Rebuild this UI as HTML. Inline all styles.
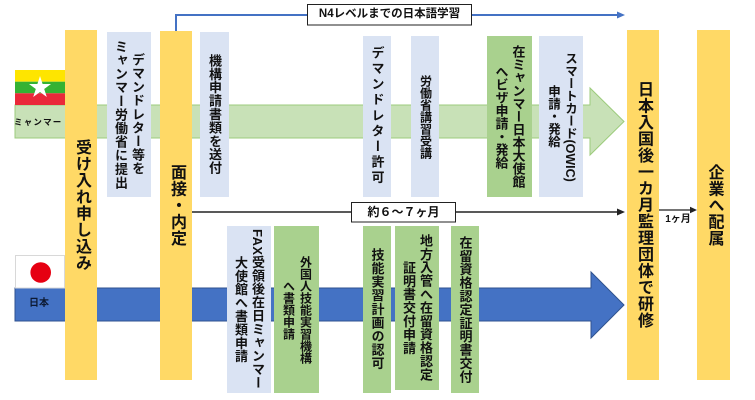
<!DOCTYPE html>
<html><head><meta charset="utf-8">
<style>
html,body{margin:0;padding:0;background:#fff;}
body{width:755px;height:400px;position:relative;overflow:hidden;font-family:"Liberation Sans","Noto Sans CJK JP",sans-serif;}
svg.bg{position:absolute;left:0;top:0;}
.b{position:absolute;writing-mode:vertical-rl;text-orientation:mixed;display:flex;align-items:center;justify-content:center;font-weight:bold;color:#111;font-family:"Liberation Sans","Noto Sans CJK JP",sans-serif;text-align:center;box-sizing:border-box;}
.b span{display:block;}
.y{background:#ffd966;font-size:16px;letter-spacing:0.5px;line-height:20px;}
.l{background:#dae3f3;font-size:13px;line-height:17px;letter-spacing:0.4px;}
.g{background:#a9d18e;font-size:13px;line-height:17px;letter-spacing:0.4px;}
.t{position:absolute;font-weight:bold;color:#111;white-space:nowrap;font-family:"Liberation Sans","Noto Sans CJK JP",sans-serif;}
</style></head><body>
<svg class="bg" width="755" height="400" viewBox="0 0 755 400" xmlns="http://www.w3.org/2000/svg">
  <!-- green band arrow -->
  <polygon points="15,105 590,105 590,88 624,121.5 590,155 590,138 15,138" fill="#c8e1b7" stroke="#9ccb7c" stroke-width="1"/>
  <!-- blue band arrow -->
  <polygon points="15,288 591,288 591,272 624,305 591,338 591,321 15,321" fill="#4472c4" stroke="#2f528f" stroke-width="1"/>
  <!-- Myanmar flag -->
  <rect x="15" y="70" width="50" height="11.7" fill="#fee500"/>
  <rect x="15" y="81.7" width="50" height="11.6" fill="#34b233"/>
  <rect x="15" y="93.3" width="50" height="11.7" fill="#ea2839"/>
  <polygon points="40,76 42.6,84 51,84 44.2,89 46.8,97 40,92 33.2,97 35.8,89 29,84 37.4,84" fill="#fff"/>
  <!-- Japan flag -->
  <rect x="15.5" y="255.5" width="49" height="32.5" fill="#fff" stroke="#d8d8d8" stroke-width="1"/>
  <circle cx="40.7" cy="272.5" r="10.3" fill="#e60012"/>
  <!-- blue top line -->
  <polyline points="176,31 176,15 618,15" fill="none" stroke="#4472c4" stroke-width="2"/>
  <polygon points="617,11.5 625,15 617,18.5" fill="#4472c4"/>
  <!-- black line -->
  <line x1="192" y1="212" x2="618" y2="212" stroke="#222" stroke-width="1.5"/>
  <polygon points="617,208.5 625,212 617,215.5" fill="#222"/>
  <!-- 1 month arrow -->
  <line x1="659" y1="210" x2="691" y2="210" stroke="#222" stroke-width="1.3"/>
  <polygon points="690,206.8 697,210 690,213.2" fill="#222"/>
  <!-- label boxes -->
  <rect x="307.5" y="4.5" width="164" height="20.5" fill="#fff" stroke="#222" stroke-width="1"/>
  <rect x="351.5" y="202.5" width="104" height="19.5" fill="#fff" stroke="#222" stroke-width="1"/>
</svg>

<div class="t" style="left:307px;top:4px;width:165px;height:21px;line-height:21px;text-align:center;font-size:11.5px;">N4レベルまでの日本語学習</div>
<div class="t" style="left:351px;top:202px;width:105px;height:20px;line-height:20px;text-align:center;font-size:12px;">約６～７ヶ月</div>
<div class="t" style="left:660px;top:213px;width:36px;text-align:center;font-size:10px;line-height:14px;">1ヶ月</div>
<div class="t" style="left:14px;top:115px;font-size:8.5px;letter-spacing:1.2px;line-height:14px;">ミャンマー</div>
<div class="t" style="left:29px;top:297px;font-size:10px;line-height:14px;color:#0d1a33;">日本</div>

<!-- yellow columns -->
<div class="b y" style="left:65px;top:30px;width:32px;height:350px;"><span>受け入れ申し込み</span></div>
<div class="b y" style="left:160px;top:31px;width:32px;height:349px;"><span>面接・内定</span></div>
<div class="b y" style="left:627px;top:30px;width:32px;height:350px;"><span>日本入国後一カ月監理団体で研修</span></div>
<div class="b y" style="left:697px;top:30px;width:33px;height:350px;"><span>企業へ配属</span></div>

<!-- top boxes -->
<div class="b l" style="left:107px;top:32px;width:44px;height:165px;letter-spacing:0.6px;"><span>デマンドレター等を<br>ミャンマー労働省に提出</span></div>
<div class="b l" style="left:200px;top:32px;width:29px;height:165px;"><span>機構申請書類を送付</span></div>
<div class="b l" style="left:363px;top:36px;width:28px;height:161px;letter-spacing:2.6px;"><span>デマンドレター許可</span></div>
<div class="b l" style="left:411px;top:36px;width:28px;height:161px;font-size:12px;letter-spacing:0px;"><span>労働省講習受講</span></div>
<div class="b g" style="left:487px;top:36px;width:45px;height:161px;letter-spacing:0px;"><span>在ミャンマー日本大使館<br>へビザ申請・発給</span></div>
<div class="b l" style="left:539px;top:36px;width:44px;height:161px;font-size:12.5px;letter-spacing:0px;"><span>スマートカード(OWIC)<br>申請・発給</span></div>

<!-- bottom boxes -->
<div class="b l" style="left:227px;top:226px;width:44px;height:167px;"><span>FAX受領後在日ミャンマー<br>大使館へ書類申請</span></div>
<div class="b g" style="left:274px;top:226px;width:45px;height:167px;font-size:12px;letter-spacing:0px;"><span>外国人技能実習機構<br>へ書類申請</span></div>
<div class="b g" style="left:363px;top:226px;width:28px;height:167px;letter-spacing:0.6px;"><span>技能実習計画の認可</span></div>
<div class="b g" style="left:395px;top:226px;width:44px;height:164px;"><span>地方入管へ在留資格認定<br>証明書交付申請</span></div>
<div class="b g" style="left:451px;top:226px;width:28px;height:167px;"><span>在留資格認定証明書交付</span></div>
</body></html>
